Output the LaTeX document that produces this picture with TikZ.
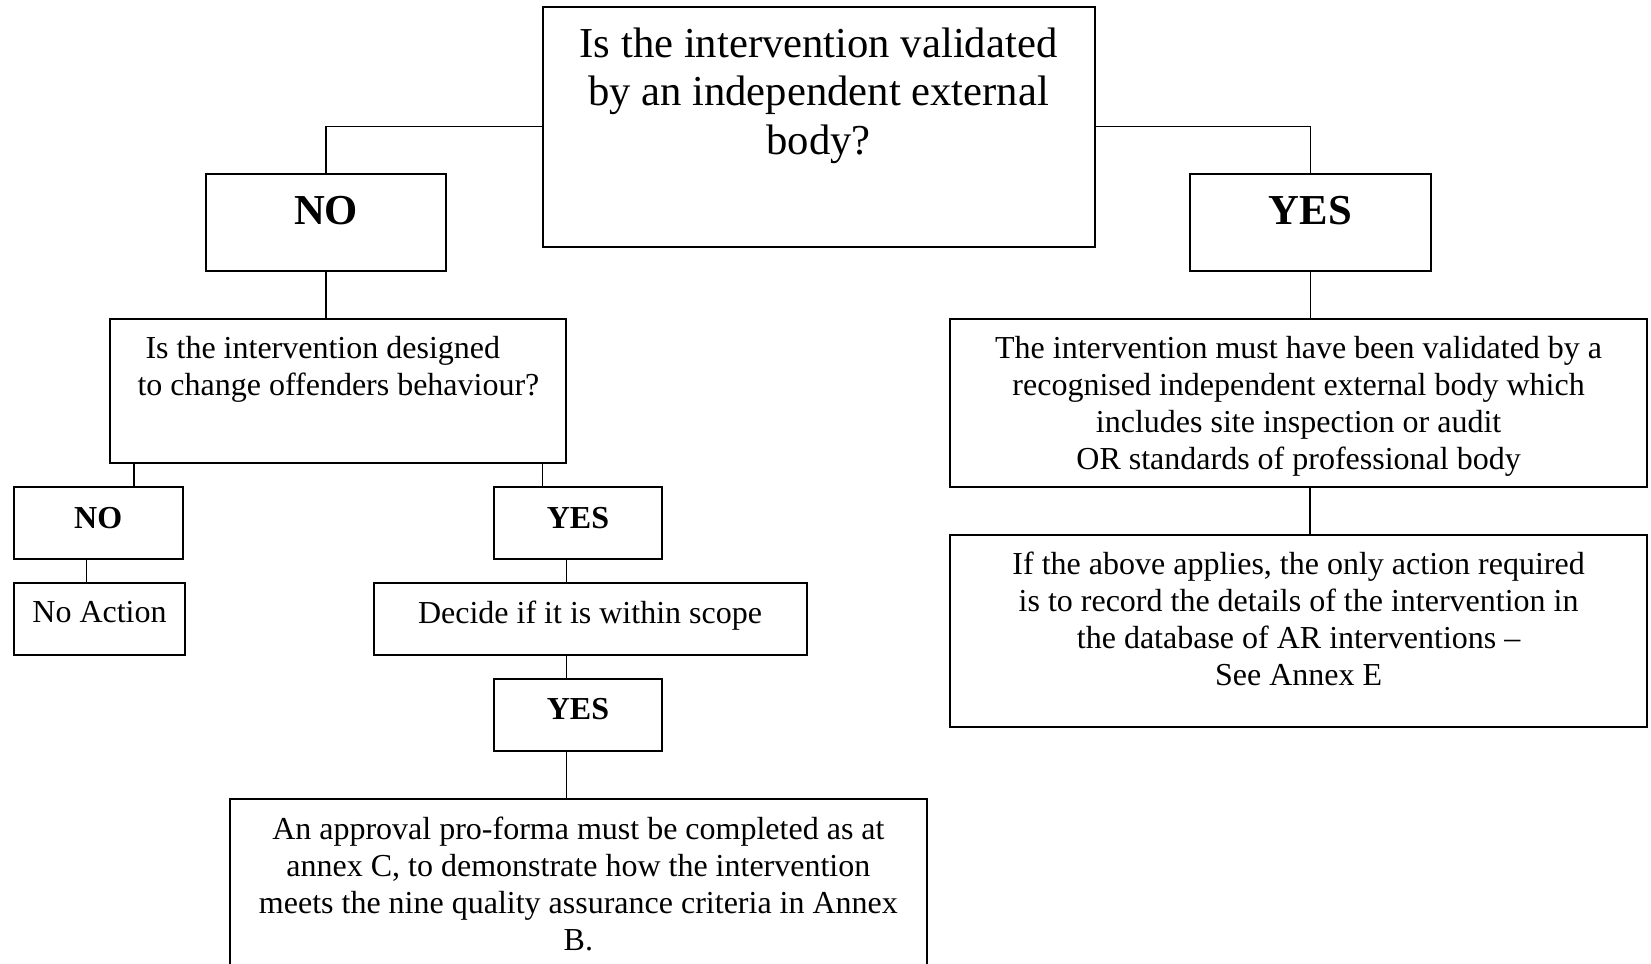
\documentclass[tikz,border=0pt]{standalone}
\usepackage{fontspec}
\setmainfont{Liberation Serif}
\newcommand\mlines[1]{\begin{tabular}[t]{@{}c@{}}#1\end{tabular}}
\newcommand\llines[1]{\begin{tabular}[t]{@{}l@{}}#1\end{tabular}}
\begin{document}
\begin{tikzpicture}[x=0.375pt,y=-0.375pt,
  box/.style={draw, rectangle, line width=0.75pt, inner sep=0pt},
  conn/.style={line width=0.5pt},
  txt/.style={inner sep=0pt, anchor=base, font=\fontsize{12}{13.95}\selectfont},
  bigtxt/.style={inner sep=0pt, anchor=base, font=\fontsize{16}{18.25}\selectfont},
  bigbold/.style={inner sep=0pt, anchor=base, font=\fontsize{16}{18}\selectfont\bfseries},
  smallbold/.style={inner sep=0pt, anchor=base, font=\fontsize{12}{13.8}\selectfont\bfseries}]
\useasboundingbox (0,0) rectangle (1651,963);
\fill[white] (0,0) rectangle (1651,963);
\clip (0,0) rectangle (1651,963);
% boxes
\node[box, minimum width=206.96pt, minimum height=90pt] (top) at (818.55,126.7) {};
\node[box, minimum width=90.11pt, minimum height=36.15pt] (noB) at (326.05,222.5) {};
\node[box, minimum width=90.23pt, minimum height=36.15pt] (yesB) at (1310.3,222.5) {};
\node[box, minimum width=171.11pt, minimum height=53.89pt] (q2) at (338.25,390.85) {};
\node[box, minimum width=261.15pt, minimum height=62.89pt] (r1) at (1298.6,402.85) {};
\node[box, minimum width=63.3pt, minimum height=27.11pt] (noS) at (98.2,522.85) {};
\node[box, minimum width=63.15pt, minimum height=27.11pt] (yesS) at (578,522.85) {};
\node[box, minimum width=64.31pt, minimum height=27.11pt] (noAct) at (99.55,618.85) {};
\node[box, minimum width=162.38pt, minimum height=27.11pt] (decide) at (590.2,618.85) {};
\node[box, minimum width=63.15pt, minimum height=26.89pt] (yes2) at (578,714.85) {};
\node[box, minimum width=261.15pt, minimum height=79.13pt] (final) at (578.4,904.5) {};
\node[box, minimum width=261.15pt, minimum height=71.89pt] (r2) at (1298.6,630.85) {};
% texts
\node[bigtxt] (topT) at (818.5,57) {\mlines{Is the intervention validated\\by an independent external\\body?}};
\node[bigbold] (noBT) at (326,224.5) {NO};
\node[bigbold] (yesBT) at (1310.3,224.5) {YES};
\node[txt, anchor=base west] (q2T) at (137,358.5) {\llines{\hspace*{3pt}Is the intervention designed\\to change offenders behaviour?}};
\node[txt] (r1T) at (1298.6,358) {\mlines{The intervention must have been validated by a\\recognised independent external body which\\includes site inspection or audit\\OR standards of professional body}};
\node[smallbold] (noST) at (98.2,528.5) {NO};
\node[smallbold] (yesST) at (578,528.5) {YES};
\node[txt] (noActT) at (99.5,622.3) {No Action};
\node[txt] (decideT) at (590,623) {Decide if it is within scope};
\node[smallbold] (yes2T) at (578,719) {YES};
\node[txt] (finalT) at (578.4,839) {\mlines{An approval pro-forma must be completed as at\\annex C, to demonstrate how the intervention\\meets the nine quality assurance criteria in Annex\\B.}};
\node[txt] (r2T) at (1298.6,574) {\mlines{If the above applies, the only action required\\is to record the details of the intervention in\\the database of AR interventions \textendash\\See Annex E}};
% connectors
\coordinate (c1) at (134,0);
\coordinate (c2) at (542.6,0);
\coordinate (c3) at (86.3,0);
\coordinate (c4) at (566.4,0);
\coordinate (c5) at (1310,0);
\draw[conn] (top.west) -| (noB.north);
\draw[conn] (top.east) -| (yesB.north);
\draw[conn] (noB.south) -- (noB.south |- q2.north);
\draw[conn] (yesB.south) -- (yesB.south |- r1.north);
\draw[conn] (q2.south -| c1) -- (noS.north -| c1);
\draw[conn] (q2.south -| c2) -- (yesS.north -| c2);
\draw[conn] (noS.south -| c3) -- (noAct.north -| c3);
\draw[conn] (yesS.south -| c4) -- (decide.north -| c4);
\draw[conn] (decide.south -| c4) -- (yes2.north -| c4);
\draw[conn] (yes2.south -| c4) -- (final.north -| c4);
\draw[conn] (r1.south -| c5) -- (r2.north -| c5);
\end{tikzpicture}
\end{document}
